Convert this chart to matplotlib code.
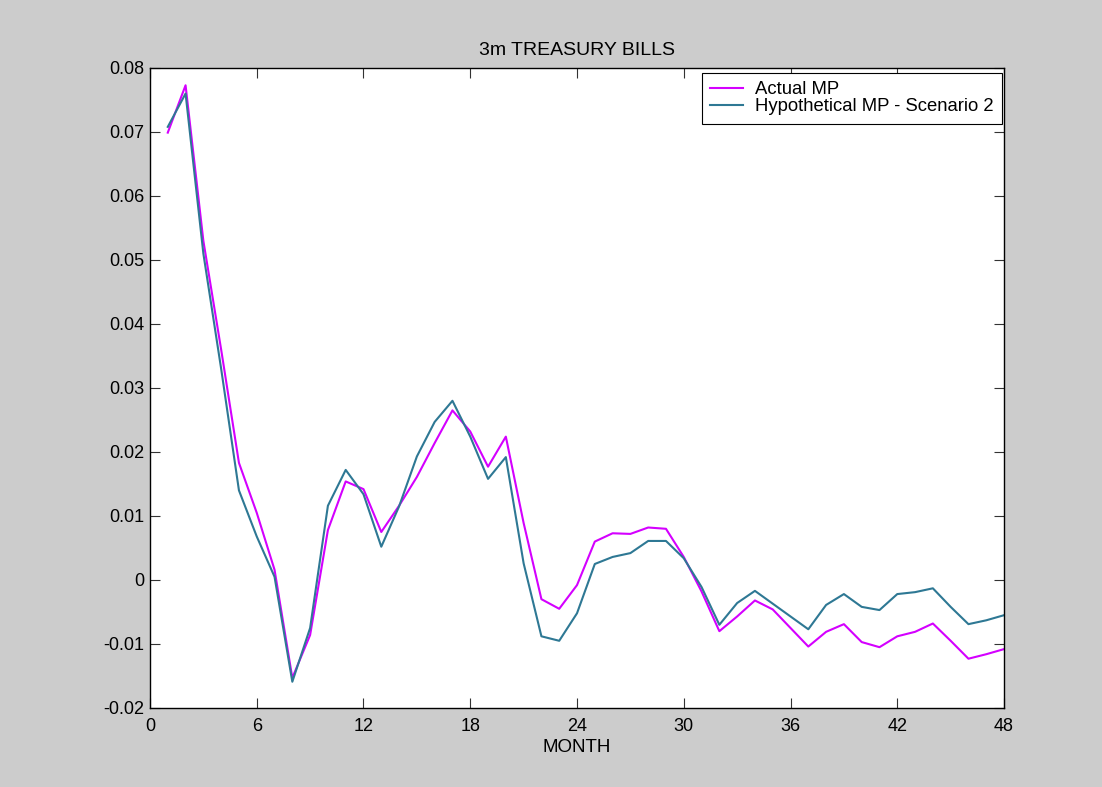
import numpy as np
import matplotlib
matplotlib.use("Agg")
import matplotlib.pyplot as plt

plt.rcParams['font.family'] = ['Liberation Sans', 'DejaVu Sans']

months = np.arange(1, 49)

actual_mp = [0.0699, 0.0773, 0.0530, 0.0360, 0.0183, 0.0105, 0.0016, -0.0153,
             -0.0086, 0.0078, 0.0154, 0.0142, 0.0075, 0.0116, 0.0161, 0.0214,
             0.0265, 0.0232, 0.0177, 0.0224, 0.0089, -0.0030, -0.0045, -0.0008,
             0.0060, 0.0073, 0.0072, 0.0082, 0.0080, 0.0036, -0.0018, -0.0080,
             -0.0057, -0.0032, -0.0046, -0.0075, -0.0104, -0.0081, -0.0069, -0.0097,
             -0.0105, -0.0088, -0.0081, -0.0068, -0.0095, -0.0123, -0.0116, -0.0108]

hypothetical_mp = [0.0708, 0.0760, 0.0510, 0.0330, 0.0140, 0.0068, 0.0005, -0.0159,
                   -0.0075, 0.0116, 0.0172, 0.0134, 0.0052, 0.0115, 0.0193, 0.0247,
                   0.0280, 0.0224, 0.0158, 0.0192, 0.0026, -0.0088, -0.0095, -0.0052,
                   0.0025, 0.0036, 0.0042, 0.0061, 0.0061, 0.0034, -0.0011, -0.0070,
                   -0.0036, -0.0017, -0.0037, -0.0057, -0.0077, -0.0039, -0.0022, -0.0042,
                   -0.0047, -0.0022, -0.0019, -0.0013, -0.0042, -0.0069, -0.0063, -0.0055]

x_ticks = [0, 6, 12, 18, 24, 30, 36, 42, 48]
y_ticks = [-0.02, -0.01, 0, 0.01, 0.02, 0.03, 0.04, 0.05, 0.06, 0.07, 0.08]
y_tick_labels = ['-0.02', '-0.01', '0', '0.01', '0.02', '0.03', '0.04',
                 '0.05', '0.06', '0.07', '0.08']

fig = plt.figure(figsize=(11.02, 7.87), dpi=100, facecolor='#cccccc')
ax = fig.add_axes([0.1361, 0.1004, 0.7750, 0.8132])

ax.plot(months, actual_mp, color='#d400ff', linewidth=1.5, label='Actual MP')
ax.plot(months, hypothetical_mp, color='#2e7894', linewidth=1.5,
        label='Hypothetical MP - Scenario 2')

ax.set_xlim(0, 48)
ax.set_ylim(-0.02, 0.08)
ax.set_xticks(x_ticks)
ax.set_yticks(y_ticks)
ax.set_yticklabels(y_tick_labels)
ax.tick_params(direction='in', length=7, top=True, right=True, labelsize=13,
               color='#333333')
ax.tick_params(axis='x', pad=7)
ax.tick_params(axis='y', pad=4)
for s in ax.spines.values():
    s.set_linewidth(1.0)

ax.set_title('3m TREASURY BILLS', fontsize=14, pad=9)
ax.set_xlabel('MONTH', fontsize=13.5, labelpad=3)

leg = ax.legend(loc='upper right', bbox_to_anchor=(1 - 2 / 854, 1 - 5 / 640),
                borderaxespad=0, fontsize=13.3, fancybox=False, framealpha=1,
                edgecolor='black', handlelength=1.8, handletextpad=0.65,
                borderpad=0.45, labelspacing=0.0)
leg.get_frame().set_linewidth(0.8)

plt.savefig('out.png', dpi=100, facecolor=fig.get_facecolor())
